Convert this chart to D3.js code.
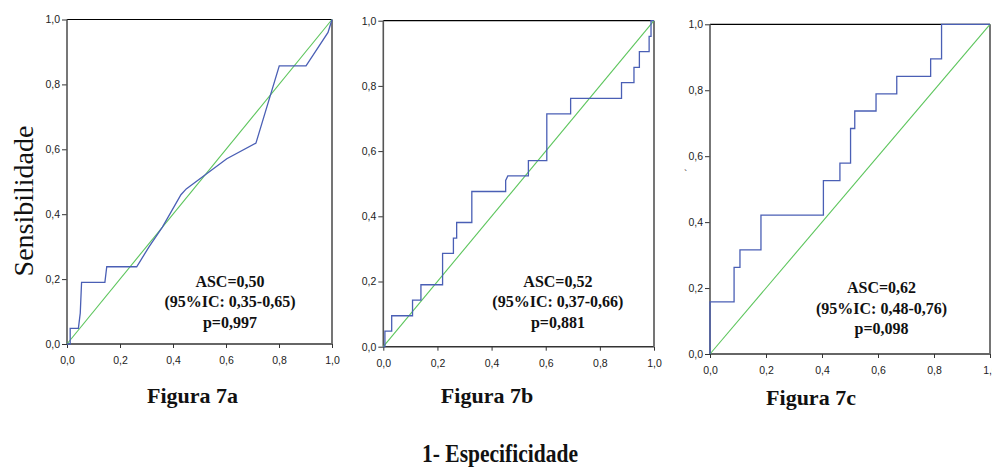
<!DOCTYPE html>
<html>
<head>
<meta charset="utf-8">
<script src="https://cdn.jsdelivr.net/npm/d3@7/dist/d3.min.js"></script>
<style>
  html, body { margin: 0; padding: 0; background: #fff; }
  svg { display: block; }
</style>
</head>
<body>
<svg id="chart" width="992" height="467"></svg>
<script>
// ---------- DATA ----------
const rocA = [[0,0],[0.012,0],[0.012,0.048],[0.043,0.048],[0.05,0.095],[0.055,0.19],[0.143,0.19],[0.15,0.238],[0.263,0.238],[0.31,0.30],[0.36,0.36],[0.43,0.46],[0.45,0.478],[0.47,0.49],[0.603,0.571],[0.713,0.619],[0.801,0.857],[0.902,0.857],[0.985,0.96],[1,1]];
const rocB = [[0,0],[0.006,0],[0.006,0.048],[0.031,0.048],[0.031,0.095],[0.108,0.095],[0.108,0.143],[0.139,0.143],[0.139,0.19],[0.219,0.19],[0.219,0.286],[0.259,0.286],[0.259,0.333],[0.271,0.333],[0.271,0.381],[0.327,0.381],[0.327,0.476],[0.452,0.476],[0.452,0.51],[0.46,0.524],[0.536,0.524],[0.536,0.571],[0.604,0.571],[0.604,0.714],[0.692,0.714],[0.692,0.762],[0.88,0.762],[0.88,0.81],[0.926,0.81],[0.926,0.857],[0.946,0.857],[0.946,0.905],[0.982,0.905],[0.982,0.952],[0.989,0.952],[0.989,1],[1,1]];
const rocC = [[0,0],[0,0.158],[0.086,0.158],[0.086,0.263],[0.107,0.263],[0.107,0.316],[0.182,0.316],[0.182,0.421],[0.405,0.421],[0.405,0.526],[0.464,0.526],[0.464,0.579],[0.502,0.579],[0.502,0.684],[0.517,0.684],[0.517,0.737],[0.593,0.737],[0.593,0.789],[0.667,0.789],[0.667,0.842],[0.788,0.842],[0.788,0.895],[0.827,0.895],[0.827,1],[1,1]];
const reference = [[0,0],[1,1]];
const tickValues = [0, 0.2, 0.4, 0.6, 0.8, 1.0];
const tickLabels = ["0,0", "0,2", "0,4", "0,6", "0,8", "1,0"];
const figureTitles = ["Figura 7a", "Figura 7b", "Figura 7c"];
const statsA = ["ASC=0,50", "(95%IC: 0,35-0,65)", "p=0,997"];
const statsB = ["ASC=0,52", "(95%IC: 0,37-0,66)", "p=0,881"];
const statsC = ["ASC=0,62", "(95%IC: 0,48-0,76)", "p=0,098"];
const yTitle = "Sensibilidade";
const xTitle = "1- Especificidade";

// ---------- LAYOUT ----------
const panels = [
  { roc: rocA, stats: statsA, title: figureTitles[0], x0: 67, x1: 332, y0: 19.5, y1: 344, sx: 0.615, sy: 0.176, tx: 192.5, ty: 403 },
  { roc: rocB, stats: statsB, title: figureTitles[1], x0: 383.3, x1: 654, y0: 20.7, y1: 346.7, sx: 0.645, sy: 0.184, tx: 487, ty: 403 },
  { roc: rocC, stats: statsC, title: figureTitles[2], x0: 710, x1: 990, y0: 24.3, y1: 354, sx: 0.6125, sy: 0.185, tx: 811, ty: 405 }
];

const svg = d3.select("#chart");
const fmt = d => tickLabels[tickValues.indexOf(d)];

panels.forEach((p, i) => {
  const x = d3.scaleLinear().domain([0, 1]).range([p.x0, p.x1]);
  const y = d3.scaleLinear().domain([0, 1]).range([p.y1, p.y0]);
  const g = svg.append("g");

  // axes
  const ya = g.append("g").attr("transform", `translate(${p.x0},0)`)
    .call(d3.axisLeft(y).tickValues(tickValues).tickFormat(fmt).tickSize(5).tickPadding(2));
  const xa = g.append("g").attr("transform", `translate(0,${p.y1})`)
    .call(d3.axisBottom(x).tickValues(tickValues).tickFormat(fmt).tickSize(4).tickPadding(9));
  [ya, xa].forEach(a => {
    a.select(".domain").remove();
    a.selectAll(".tick line").attr("stroke", "#333").attr("stroke-width", 1);
    a.selectAll(".tick text").attr("fill", "#222")
      .style("font-family", "'Liberation Sans', Arial, sans-serif")
      .style("font-size", "10.5px");
  });

  // frame
  g.append("line").attr("x1", x(0)).attr("x2", x(1)).attr("y1", y(1)).attr("y2", y(1))
    .attr("stroke", "#000").attr("stroke-width", 1.2);
  g.append("line").attr("x1", x(0)).attr("x2", x(1)).attr("y1", y(0)).attr("y2", y(0))
    .attr("stroke", "#333").attr("stroke-width", 1.4);
  g.append("line").attr("x1", x(0)).attr("x2", x(0)).attr("y1", y(0)).attr("y2", y(1))
    .attr("stroke", "#555").attr("stroke-width", 1.6);
  g.append("line").attr("x1", x(1)).attr("x2", x(1)).attr("y1", y(0)).attr("y2", y(1))
    .attr("stroke", "#666").attr("stroke-width", 1.8);

  // reference diagonal
  const line = d3.line().x(d => x(d[0])).y(d => y(d[1]));
  g.append("path").datum(reference).attr("d", line)
    .attr("fill", "none").attr("stroke", "#5cc55c").attr("stroke-width", 1.1);
  // ROC curve
  g.append("path").datum(p.roc).attr("d", line)
    .attr("fill", "none").attr("stroke", "#4a5fb5").attr("stroke-width", 1.3);

  // stats annotation
  g.append("text").attr("x", x(p.sx)).attr("y", y(p.sy))
    .attr("text-anchor", "middle")
    .style("font-family", "'Liberation Serif', 'Times New Roman', serif")
    .style("font-weight", "bold").style("font-size", "16px").attr("fill", "#111")
    .selectAll("tspan").data(p.stats).join("tspan")
    .attr("x", x(p.sx)).attr("dy", (d, k) => k === 0 ? 0 : 20.5).text(d => d);

  // figure title
  svg.append("text").attr("x", p.tx).attr("y", p.ty).attr("text-anchor", "middle")
    .style("font-family", "'Liberation Serif', 'Times New Roman', serif")
    .style("font-weight", "bold").style("font-size", "22px").attr("fill", "#111")
    .text(p.title);
});

// stray mark in third panel
svg.append("text").attr("x", 684).attr("y", 178)
  .style("font-family", "'Liberation Sans', sans-serif").style("font-size", "10px")
  .attr("fill", "#333").text("`");

// y title
svg.append("text").attr("transform", "translate(33,201) rotate(-90)")
  .attr("text-anchor", "middle")
  .style("font-family", "'Liberation Serif', 'Times New Roman', serif")
  .style("font-size", "28px").attr("fill", "#111").text(yTitle);

// x title
svg.append("text").attr("x", 500).attr("y", 462).attr("text-anchor", "middle")
  .attr("textLength", 156).attr("lengthAdjust", "spacingAndGlyphs")
  .style("font-family", "'Liberation Serif', 'Times New Roman', serif")
  .style("font-weight", "bold").style("font-size", "26px").attr("fill", "#111")
  .text(xTitle);
</script>
</body>
</html>
